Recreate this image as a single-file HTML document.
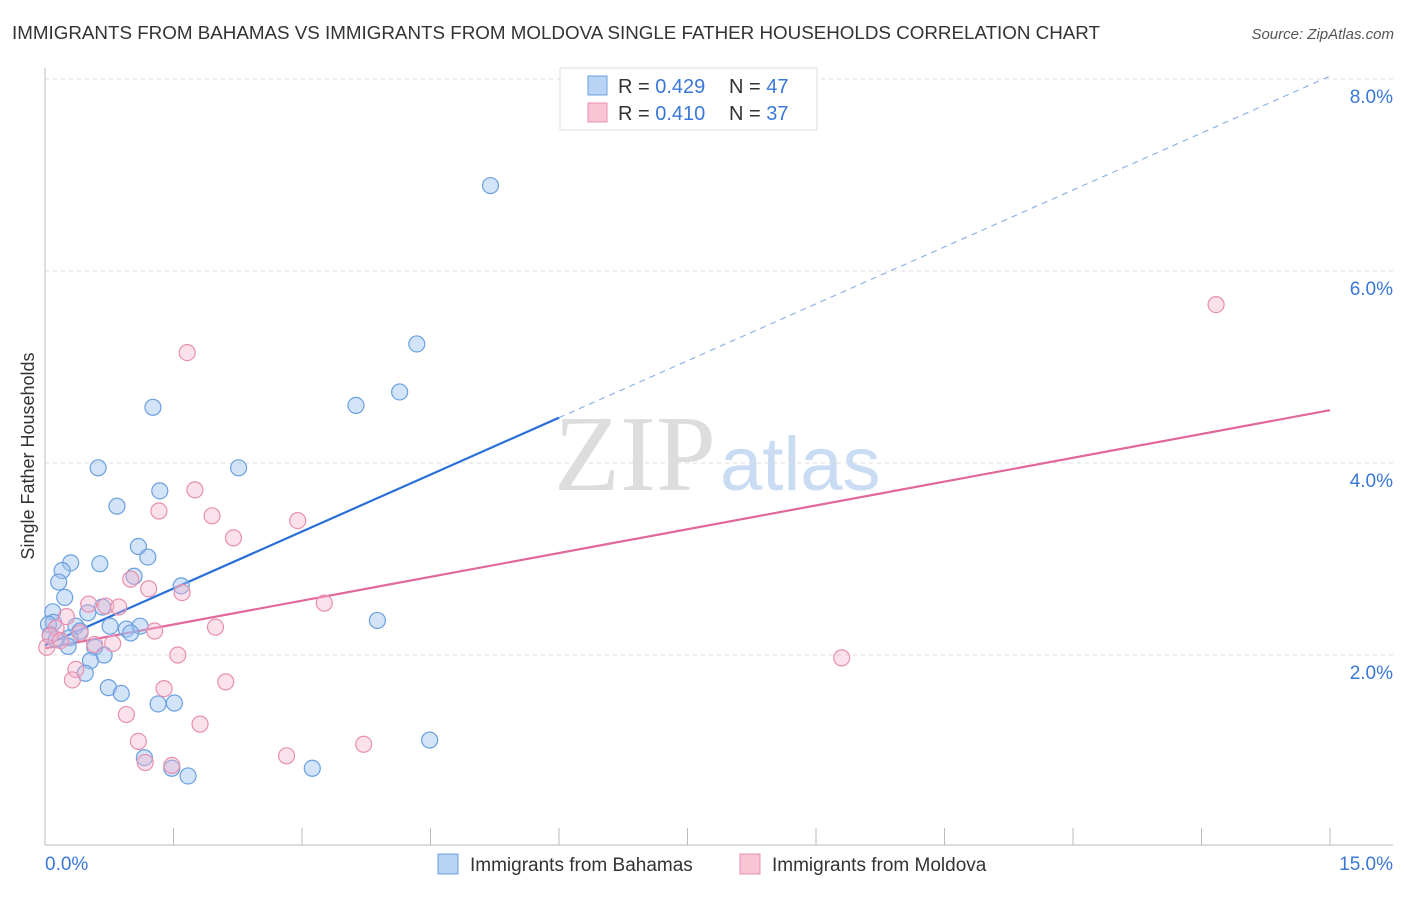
<!DOCTYPE html>
<html><head><meta charset="utf-8"><style>
body{margin:0;background:#fff;font-family:"Liberation Sans",sans-serif}
</style></head><body>
<svg width="1406" height="892" xmlns="http://www.w3.org/2000/svg" font-family="Liberation Sans, sans-serif">
<text x="12" y="39" font-size="18" fill="#333" textLength="1088" lengthAdjust="spacingAndGlyphs">IMMIGRANTS FROM BAHAMAS VS IMMIGRANTS FROM MOLDOVA SINGLE FATHER HOUSEHOLDS CORRELATION CHART</text>
<text x="1394" y="39" font-size="15" fill="#555" font-style="italic" text-anchor="end">Source: ZipAtlas.com</text>
<g>
<text x="635" y="490" font-size="108" fill="#ddd" font-family="Liberation Serif, serif" text-anchor="middle">ZIP</text>
<text x="720" y="490" font-size="76" fill="#c9dcf3">atlas</text>
</g>
<g id="grid"></g>
<g id="axes"></g>
<g id="lines"></g>
<g id="pts"></g>
<text transform="translate(34,456) rotate(-90)" font-size="18" fill="#333" text-anchor="middle">Single Father Households</text>
<g>
<rect x="560" y="68" width="257" height="62" fill="#fff" stroke="#ddd"/>
<rect x="588" y="76" width="19" height="19" fill="#b9d3f5" stroke="#6a9fe0"/>
<rect x="588" y="103" width="19" height="19" fill="#f9c5d5" stroke="#e890ae"/>
<text x="618" y="93" font-size="20" fill="#333">R = <tspan fill="#3a78d8">0.429</tspan></text>
<text x="729" y="93" font-size="20" fill="#333">N = <tspan fill="#3a78d8">47</tspan></text>
<text x="618" y="120" font-size="20" fill="#333">R = <tspan fill="#3a78d8">0.410</tspan></text>
<text x="729" y="120" font-size="20" fill="#333">N = <tspan fill="#3a78d8">37</tspan></text>
</g>
<g>
<rect x="438" y="854" width="20" height="20" fill="#b9d3f5" stroke="#6a9fe0"/>
<text x="470" y="871" font-size="19" fill="#333">Immigrants from Bahamas</text>
<rect x="740" y="854" width="20" height="20" fill="#f9c5d5" stroke="#e890ae"/>
<text x="772" y="871" font-size="19" fill="#333">Immigrants from Moldova</text>
</g>
</svg>
<script>
const xTicks=[0,1.5,3,4.5,6,7.5,9,10.5,12,13.5,15];
const yTicks=[2,4,6,8];
const yTickLabels=["2.0%","4.0%","6.0%","8.0%"];
const xTickLabels=["0.0%","15.0%"];
const bahamasX=[5.2,4.34,4.14,3.63,1.26,0.62,2.26,1.34,0.84,1.09,1.2,0.3,0.64,0.2,0.16,1.04,1.59,0.23,0.09,0.67,0.5,0.1,0.36,0.95,1.11,0.41,1.0,0.29,0.58,0.27,0.69,0.53,0.47,0.74,0.89,1.32,1.51,3.88,4.49,1.16,1.48,1.67,3.12,0.04,0.06,0.13,0.76];
const bahamasY=[6.89,5.24,4.74,4.6,4.58,3.95,3.95,3.71,3.55,3.13,3.02,2.96,2.95,2.88,2.76,2.82,2.72,2.6,2.45,2.5,2.44,2.34,2.3,2.27,2.3,2.25,2.23,2.18,2.08,2.09,2.0,1.94,1.81,1.66,1.6,1.49,1.5,2.36,1.114,0.93,0.82,0.74,0.82,2.32,2.21,2.16,2.3];
const moldovaX=[13.67,1.66,1.75,1.33,1.95,2.95,2.2,1.0,1.21,1.6,0.51,0.71,0.86,3.26,0.25,1.28,1.99,0.13,0.06,0.41,0.79,0.18,0.02,0.58,1.55,0.36,0.32,2.11,1.39,0.95,1.81,1.09,3.72,2.82,1.17,1.48,9.3];
const moldovaY=[5.65,5.15,3.72,3.5,3.45,3.4,3.22,2.79,2.69,2.65,2.53,2.51,2.5,2.54,2.4,2.25,2.29,2.28,2.2,2.23,2.12,2.15,2.08,2.11,2.0,1.85,1.74,1.72,1.65,1.38,1.28,1.1,1.07,0.95,0.88,0.85,1.97];
const bahamasTrend=[2.1,8.03];
const moldovaTrend=[2.07,4.55];
const NS="http://www.w3.org/2000/svg";
const X=v=>45+v*(1285/15), Y=v=>847-v*96;
function mk(t,a,p){const e=document.createElementNS(NS,t);for(const k in a)e.setAttribute(k,a[k]);document.getElementById(p).appendChild(e);return e;}
yTicks.forEach((v,i)=>{
 const g=mk('line',{x1:45,x2:1393,y1:Y(v),y2:Y(v),stroke:'#ddd','stroke-dasharray':'4,4'},'grid');
 
 
 const t=mk('text',{x:1393,y:Y(v)+24,'font-size':19,fill:'#3a78d8','text-anchor':'end'},'axes');
 t.textContent=yTickLabels[i];
 
 
});
let ax=mk('line',{x1:45,x2:45,y1:68,y2:845,stroke:'#bbb'},'axes');


ax=mk('line',{x1:45,x2:1393,y1:845,y2:845,stroke:'#bbb'},'axes');


xTicks.forEach(v=>{const t=mk('line',{x1:X(v),x2:X(v),y1:828,y2:845,stroke:'#bbb'},'axes');
 
 });
let t1=mk('text',{x:45,y:870,'font-size':19,fill:'#3a78d8'},'axes');t1.textContent=xTickLabels[0];


t1=mk('text',{x:1393,y:870,'font-size':19,fill:'#3a78d8','text-anchor':'end'},'axes');t1.textContent=xTickLabels[1];


const bx=6;const by=bahamasTrend[0]+(bahamasTrend[1]-bahamasTrend[0])*bx/15;
let l=mk('line',{x1:X(0),y1:Y(bahamasTrend[0]),x2:X(bx),y2:Y(by),stroke:'#2a6fd6','stroke-width':2.2},'lines');


l=mk('line',{x1:X(bx),y1:Y(by),x2:X(15),y2:Y(bahamasTrend[1]),stroke:'#8fb3e6','stroke-width':1.2,'stroke-dasharray':'6,5'},'lines');


l=mk('line',{x1:X(0),y1:Y(moldovaTrend[0]),x2:X(15),y2:Y(moldovaTrend[1]),stroke:'#e2679a','stroke-width':2.2},'lines');


bahamasX.forEach((v,i)=>{const c=mk('circle',{cx:X(v),cy:Y(bahamasY[i]),r:8,fill:'rgba(160,196,240,0.45)',stroke:'#6a9fe0','stroke-width':1.2},'pts');
 
 });
moldovaX.forEach((v,i)=>{const c=mk('circle',{cx:X(v),cy:Y(moldovaY[i]),r:8,fill:'rgba(245,180,204,0.4)',stroke:'#e890ae','stroke-width':1.2},'pts');
 
 });
</script>
</body></html>
